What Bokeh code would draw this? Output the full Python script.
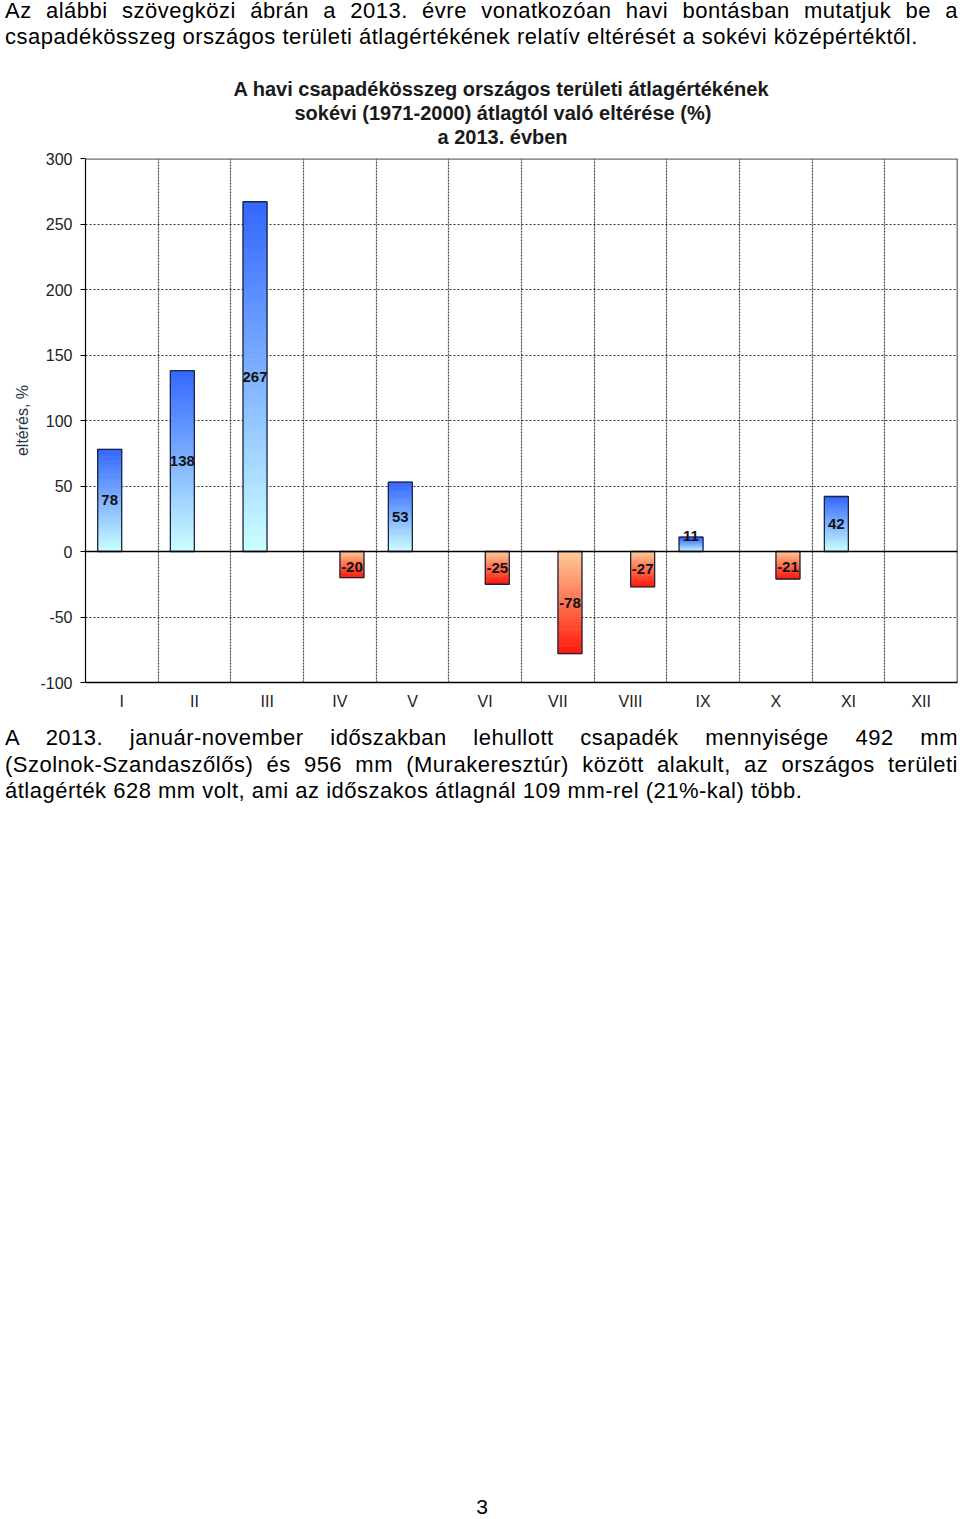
import numpy as np
from bokeh.plotting import figure
from bokeh.models import Div, FixedTicker, Span, Title, ColumnDataSource
from bokeh.layouts import column
from bokeh.core.properties import value
from bokeh.embed import file_html
from bokeh.resources import INLINE

# ---------------- data ----------------
months = ["I", "II", "III", "IV", "V", "VI", "VII", "VIII", "IX", "X", "XI", "XII"]
deviation = [78, 138, 267, -20, 53, -25, -78, -27, 11, -21, 42, None]
y_ticks = [-100, -50, 0, 50, 100, 150, 200, 250, 300]

title_lines = [
    "A havi csapadékösszeg országos területi átlagértékének",
    "sokévi (1971-2000) átlagtól való eltérése (%)",
    "a 2013. évben",
]
top_lines = [
    "Az alábbi szövegközi ábrán a 2013. évre vonatkozóan havi bontásban mutatjuk be a",
    "csapadékösszeg országos területi átlagértékének relatív eltérését a sokévi középértéktől.",
]
bottom_lines = [
    "A 2013. január-november időszakban lehullott csapadék mennyisége 492 mm",
    "(Szolnok-Szandaszőlős) és 956 mm (Murakeresztúr) között alakult, az országos területi",
    "átlagérték 628 mm volt, ami az időszakos átlagnál 109 mm-rel (21%-kal) több.",
]
page_number = "3"

FONT = "Liberation Sans"

# ---------------- helpers ----------------
def lerp_color(c0, c1, t):
    a = np.array([int(c0[i:i + 2], 16) for i in (1, 3, 5)], float)
    b = np.array([int(c1[i:i + 2], 16) for i in (1, 3, 5)], float)
    c = a + (b - a) * t
    return "#%02x%02x%02x" % tuple(int(round(v)) for v in c)


def paragraph(lines, line_height, shift_top):
    parts = []
    for i, ln in enumerate(lines):
        last = i == len(lines) - 1
        align = "left" if last else "justify"
        parts.append(
            f'<div style="white-space:nowrap;text-align:{align};text-align-last:{align};'
            f'height:{line_height}px;line-height:{line_height}px;">{ln}</div>'
        )
    return (
        f'<div style="position:relative;left:0px;top:{shift_top}px;width:953px;'
        f'font-family:\'{FONT}\',Arial,sans-serif;font-size:22px;letter-spacing:0.5px;color:#000;">'
        + "".join(parts) + "</div>"
    )


# ---------------- top text ----------------
top_div = Div(text=paragraph(top_lines, 26, -7), width=944, height=39)

# ---------------- chart ----------------
p = figure(
    width=958, height=670, x_range=(0, 12), y_range=(-100, 300),
    output_backend="svg", toolbar_location=None,
    min_border_left=85, min_border_right=1, min_border_top=109, min_border_bottom=37,
)
p.outline_line_color = None
p.background_fill_color = "white"
p.border_fill_color = "white"

xs, bottoms, tops, colors = [], [], [], []
bar_x, bar_top, lab_x, lab_y, lab_t = [], [], [], [], []
N = 60
for i, v in enumerate(deviation):
    if v is None:
        continue
    if v >= 0:
        cx = i + 0.5 - 0.167
        c_base, c_end = "#ccffff", "#3366ff"
    else:
        cx = i + 0.5 + 0.167
        c_base, c_end = "#ffcc99", "#ff1a0a"
    edges = np.linspace(0, v, N + 1)
    for k in range(N):
        xs.append(cx)
        bottoms.append(edges[k])
        tops.append(edges[k + 1])
        colors.append(lerp_color(c_base, c_end, (k + 0.5) / N))
    bar_x.append(cx)
    bar_top.append(v)
    lab_x.append(cx)
    lab_y.append(np.sign(v) * max(abs(v) / 2, 12))
    lab_t.append(str(v))

grad_src = ColumnDataSource(dict(x=xs, bottom=bottoms, top=tops, color=colors))
p.vbar(x="x", bottom="bottom", top="top", width=0.33, fill_color="color",
       line_color="color", line_width=0.8, source=grad_src)

bar_src = ColumnDataSource(dict(x=bar_x, top=bar_top))
p.vbar(x="x", bottom=0, top="top", width=0.33, fill_color=None,
       line_color="#1c2640", line_width=1.3, source=bar_src)

# grids
p.ygrid.ticker = FixedTicker(ticks=y_ticks)
p.ygrid.grid_line_color = "#333333"
p.ygrid.grid_line_dash = "2 2"
p.ygrid.grid_line_width = 1
p.xgrid.ticker = FixedTicker(ticks=list(range(1, 12)))
p.xgrid.grid_line_color = "#444444"
p.xgrid.grid_line_dash = "2 1"
p.xgrid.grid_line_width = 1.2

# frame borders and zero line
p.add_layout(Span(location=0, dimension="width", line_color="#000000", line_width=1.5))
p.add_layout(Span(location=300, dimension="width", line_color="#6e6e6e", line_width=2.5))
p.add_layout(Span(location=12, dimension="height", line_color="#000000", line_width=1.5))

lab_src = ColumnDataSource(dict(x=lab_x, y=lab_y, t=lab_t))
p.text(x="x", y="y", text="t", source=lab_src, text_align="center",
       text_baseline="middle", text_font=value(FONT), text_font_size="15px",
       text_font_style="bold", text_color="#111111")

# axes
p.yaxis.ticker = FixedTicker(ticks=y_ticks)
p.yaxis.major_label_overrides = {t: str(t) for t in y_ticks}
p.yaxis.axis_line_color = "#000000"
p.yaxis.axis_line_width = 1.2
p.yaxis.major_tick_out = 5
p.yaxis.major_tick_in = 0
p.yaxis.minor_tick_line_color = None
p.yaxis.major_tick_line_color = "#000000"
p.yaxis.major_label_text_font = FONT
p.yaxis.major_label_text_font_size = "16px"
p.yaxis.major_label_text_color = "#222222"
p.yaxis.major_label_standoff = 8
p.yaxis.axis_label = "eltérés, %"
p.yaxis.axis_label_text_font = FONT
p.yaxis.axis_label_text_font_size = "16px"
p.yaxis.axis_label_text_font_style = "normal"
p.yaxis.axis_label_text_color = "#2b3345"
p.yaxis.axis_label_standoff = 6

p.xaxis.ticker = FixedTicker(ticks=[i + 0.5 for i in range(len(months))])
p.xaxis.major_label_overrides = {i + 0.5: m for i, m in enumerate(months)}
p.xaxis.axis_line_color = "#000000"
p.xaxis.axis_line_width = 1.5
p.xaxis.major_tick_out = 0
p.xaxis.major_tick_in = 0
p.xaxis.minor_tick_line_color = None
p.xaxis.major_label_text_font = FONT
p.xaxis.major_label_text_font_size = "16px"
p.xaxis.major_label_text_color = "#222222"
p.xaxis.major_label_standoff = 10

# title: a small spacer, then the three lines stacked from the frame outward
p.add_layout(Title(text=" ", text_font_size="8px", standoff=0), "above")
title_offsets = [148, 209, 352]  # left edge of each line relative to the frame
for ln, off in reversed(list(zip(title_lines, title_offsets))):
    p.add_layout(Title(text=ln, align="left", offset=off, text_font=FONT,
                       text_font_size="20px", text_font_style="bold",
                       text_color="#1a1a1a", standoff=0), "above")

# ---------------- bottom text ----------------
bottom_div = Div(text=paragraph(bottom_lines, 26.5, 1), width=944, height=90)

page_div = Div(
    text=(f'<div style="position:relative;top:673px;left:5px;width:944px;text-align:center;'
          f'font-family:\'{FONT}\',Arial,sans-serif;font-size:21px;line-height:20px;">'
          f'{page_number}</div>'),
    width=944, height=690,
)

layout = column(top_div, p, bottom_div, page_div)
open("out.html", "w").write(file_html(layout, INLINE))
